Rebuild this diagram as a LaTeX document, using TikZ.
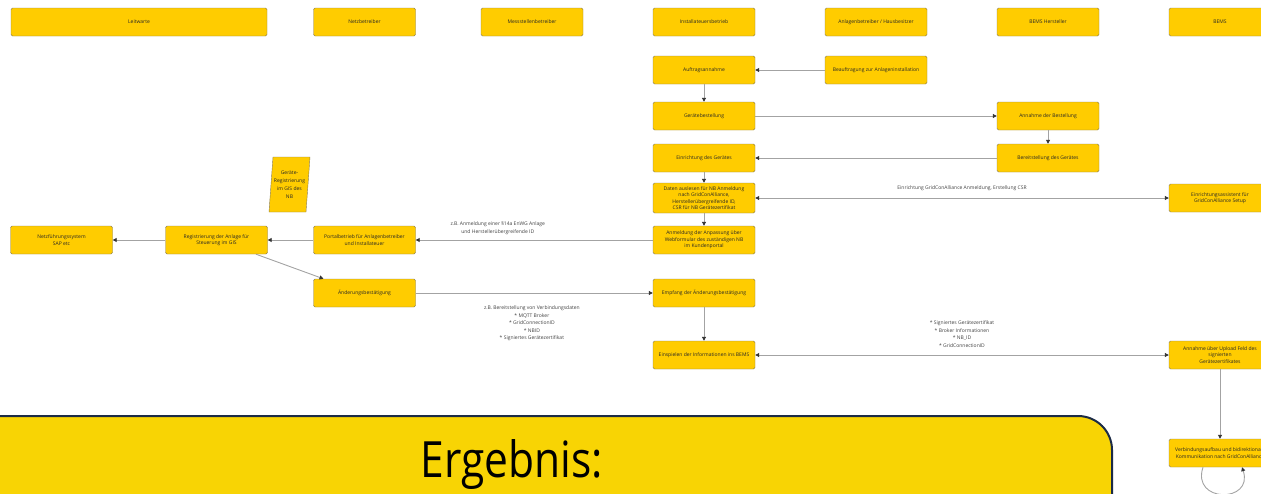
\documentclass[tikz,border=0pt]{standalone}
\usepackage{fontspec}
\setmainfont{Open Sans}
\newfontfamily\bannerfont[FakeStretch=0.85]{Open Sans}
\usetikzlibrary{arrows.meta}

\definecolor{boxyellow}{HTML}{FFCC00}
\definecolor{boxedge}{HTML}{8A7D55}
\definecolor{bannerfill}{HTML}{F8D404}
\definecolor{bannerline}{HTML}{1C2B45}
\definecolor{linegray}{HTML}{A3A3A3}

\tikzset{
  actor/.style={draw=boxedge, fill=boxyellow, rounded corners=1.5pt, minimum width=102pt,
    minimum height=28pt, inner sep=1pt, align=center, font=\fontsize{5}{6.5}\selectfont, text=black!85},
  flow/.style={draw=linegray, line width=0.9pt, ->},
  both/.style={draw=linegray, line width=0.9pt, <->},
  note/.style={align=center, font=\fontsize{5}{7.5}\selectfont, text=black!75},
  >={Triangle[length=4pt,width=4pt,color=black!80]}
}

\begin{document}
\begin{tikzpicture}[x=1pt,y=-1pt]
\useasboundingbox (0,0) rectangle (1261,493);
\clip (0,0) rectangle (1261,493);

% lanes
\node[actor, minimum width=256pt] (leitwarte) at (139,22) {Leitwarte};
\node[actor] (netzbetreiber) at (364.5,22) {Netzbetreiber};
\node[actor] (messstelle) at (532,22) {Messstellenbetreiber};
\node[actor] (installateur) at (704,22) {Installateuersbetrieb};
\node[actor] (anlagenbetreiber) at (876,22) {Anlagenbetreiber / Hausbesitzer};
\node[actor] (bemshersteller) at (1048,22) {BEMS Hersteller};
\node[actor] (bems) at (1220,22) {BEMS};

% installateur column
\node[actor] (auftrag) at (704,70) {Auftragsannahme};
\node[actor] (beauftragung) at (876,70) {Beauftragung zur Anlageninstallation};
\node[actor] (bestellung) at (704,116) {Gerätebestellung};
\node[actor] (annahme) at (1048,116) {Annahme der Bestellung};
\node[actor] (einrichtung) at (704,158) {Einrichtung des Gerätes};
\node[actor] (bereitstellung) at (1048,158) {Bereitstellung des Gerätes};
\node[actor, minimum height=30pt] (daten) at (704,198) {Daten auslesen für NB Anmeldung\\nach GridConAlliance,\\Herstellerübergreifende ID,\\CSR für NB Gerätezertifikat};
\node[actor] (assistent) at (1220,198) {Einrichtungsassistent für\\GridConAlliance Setup};
\node[actor] (anmeldung) at (704,240) {Anmeldung der Anpassung über\\Webformular des zuständigen NB\\im Kundenportal};
\node[actor] (empfang) at (704,293) {Empfang der Änderungsbestätigung};
\node[actor] (einspielen) at (704,355) {Einspielen der Informationen ins BEMS};
\node[actor] (upload) at (1220,355) {Annahme über Upload Feld des\\signierten\\Gerätezertifikates};
\node[actor] (verbindung) at (1220,453) {Verbindungsaufbau und bidirektionale\\Kommunikation nach GridConAlliance};

% netzbetreiber side
\node[actor] (netzfuehrung) at (61.5,240) {Netzführungssystem\\SAP etc};
\node[actor] (registrierung) at (216.5,240) {Registrierung der Anlage für\\Steuerung im GIS};
\node[actor] (portal) at (364.5,240) {Portalbetrieb für Anlagenbetreiber\\und Installateuer};
\node[actor] (aenderung) at (364.5,293) {Änderungsbestätigung};

\fill[boxyellow, draw=boxedge] (273,157) -- (310,157) -- (306,212) -- (269,212) -- cycle;
\node[note, font=\fontsize{5}{8}\selectfont, text=black!85] (gisreg) at (289.5,184.5) {Geräte-\\Registrierung\\im GIS des\\NB};

% connectors
\draw[flow] (beauftragung) -- (auftrag);
\draw[flow] (auftrag) -- (bestellung);
\draw[flow] (bestellung) -- (annahme);
\draw[flow] (annahme) -- (bereitstellung);
\draw[flow] (bereitstellung) -- (einrichtung);
\draw[flow] (einrichtung) -- (daten);
\draw[both] (daten) -- node[note, above=4pt] (csrlabel) {Einrichtung GridConAlliance Anmeldung, Erstellung CSR} (assistent);
\draw[flow] (daten) -- (anmeldung);
\draw[flow] (anmeldung) -- node[note, pos=0.654, above=2pt] (anmeldelabel) {z.B. Anmeldung einer §14a EnWG Anlage\\und Herstellerübergreifende ID} (portal);
\draw[flow] (portal) -- (registrierung);
\draw[flow] (registrierung) -- (netzfuehrung);
\draw[flow] ([xshift=39.5pt]registrierung.south) -- ([xshift=-41pt]aenderung.north);
\draw[flow] (aenderung) -- node[note, pos=0.49, below=9pt] (datenlabel) {z.B. Bereitstellung von Verbindungsdaten\\* MQTT Broker\\* GridConnectionID\\* NBID\\* Signiertes Gerätezertifikat} (empfang);
\draw[flow] (empfang) -- (einspielen);
\draw[both] (einspielen) -- node[note, above=4pt] (zertlabel) {* Signiertes Gerätezertifikat\\* Broker Informationen\\* NB\_ID\\* GridConnectionID} (upload);
\draw[flow] (upload) -- (verbindung);
\draw[flow] ([xshift=-17pt]verbindung.south) .. controls +(-12,36) and +(12,36) .. ([xshift=22pt]verbindung.south);

% result banner
\draw[fill=bannerfill, draw=bannerline, line width=2pt, rounded corners=34pt]
  (-60,560) -- (-60,416) -- (1112,416) -- (1112,560) -- cycle;
\node[font=\bannerfont\fontsize{50}{50}\selectfont] (ergebnis) at (512,465) {Ergebnis:};
\end{tikzpicture}
\end{document}
